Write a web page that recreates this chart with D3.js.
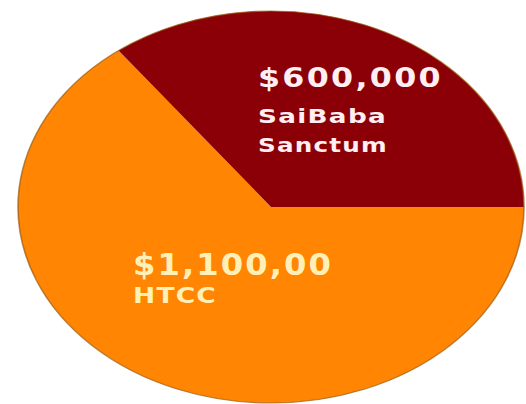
<!DOCTYPE html>
<html>
<head>
<meta charset="utf-8">
<script src="https://cdn.jsdelivr.net/npm/d3@7"></script>
<style>
  html, body { margin: 0; padding: 0; background: #fff; }
  svg { display: block; }
</style>
</head>
<body>
<script>
// ===================================================================

const WIDTH = 526
const HEIGHT = 404

const CX = 271
const CY = 207
const RX = 253
const RY = 196

// data
const categories = ['HTCC', 'SaiBaba Sanstum']
const values = [1100000, 600000]
const valueLabels = ['$1,100,00', '$600,000']
const nameLines = [['HTCC'], ['SaiBaba', 'Sanctum']]

const COLORS = ['#ff8503', '#8a0006']
const TEXT_COLORS = ['#fff0b8', '#ffeef2']

// label layout: left x, baseline of value line, line baselines, lengths
const LABELS = [
  { x: 133, y: 275, size: 31, len: 200, lines: [{ y: 303, size: 22, len: 84 }] },
  { x: 258, y: 87, size: 27, len: 185, lines: [{ y: 123, size: 20, len: 129 }, { y: 152, size: 20, len: 130 }] }
]

// ===================================================================

const svg = d3.select('body')
  .append('svg')
    .attr('width', WIDTH)
    .attr('height', HEIGHT)

const pie = d3.pie()
  .sort(null)
  .startAngle(Math.PI / 2)
  .endAngle(Math.PI / 2 + 2 * Math.PI)

const arc = d3.arc()
  .innerRadius(0)
  .outerRadius(RX)

const g = svg.append('g')
  .attr('transform', `translate(${CX}, ${CY}) scale(1, ${RY / RX})`)

g.selectAll('path')
  .data(pie(values))
  .join('path')
    .attr('d', arc)
    .attr('fill', (d, i) => COLORS[i])

// soft brownish rim
g.append('ellipse')
  .attr('rx', RX)
  .attr('ry', RX)
  .attr('fill', 'none')
  .attr('stroke', '#9a5a10')
  .attr('stroke-width', 1.6)
  .attr('stroke-opacity', 0.7)

const labels = svg.append('g')
  .style('font-family', '"DejaVu Sans", Verdana, sans-serif')
  .style('font-weight', 'bold')

categories.forEach((c, i) => {
  const l = LABELS[i]
  labels.append('text')
    .attr('x', l.x)
    .attr('y', l.y)
    .attr('font-size', l.size)
    .attr('letter-spacing', 2)
    .attr('textLength', l.len)
    .attr('lengthAdjust', 'spacingAndGlyphs')
    .attr('fill', TEXT_COLORS[i])
    .text(valueLabels[i])

  nameLines[i].forEach((line, j) => {
    labels.append('text')
      .attr('x', l.x)
      .attr('y', l.lines[j].y)
      .attr('font-size', l.lines[j].size)
      .attr('letter-spacing', 1)
      .attr('textLength', l.lines[j].len)
      .attr('lengthAdjust', 'spacingAndGlyphs')
      .attr('fill', TEXT_COLORS[i])
      .text(line)
  })
})
</script>
</body>
</html>
